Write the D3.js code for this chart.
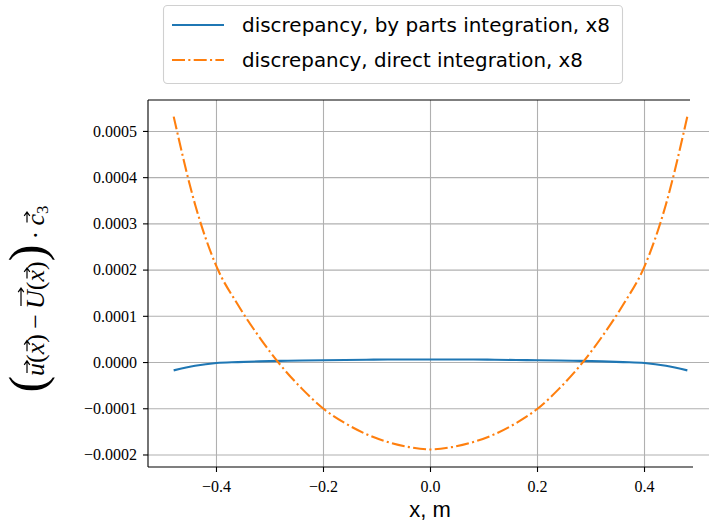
<!DOCTYPE html>
<html>
<head>
<meta charset="utf-8">
<script src="https://cdn.jsdelivr.net/npm/d3@7"></script>
<style>
  body { margin: 0; background: #fff; }
  svg { display: block; }
</style>
</head>
<body>
<div class="chart"></div>
<script>
// x positions (m)
var xs = [-0.48, -0.44, -0.40, -0.36, -0.32, -0.28, -0.24, -0.20, -0.16, -0.12, -0.08, -0.04, 0.00,
          0.04, 0.08, 0.12, 0.16, 0.20, 0.24, 0.28, 0.32, 0.36, 0.40, 0.44, 0.48]

// discrepancy, by parts integration, x8
var byParts = [-0.000017, -0.000007, -0.000001, 0.000001, 0.0000025, 0.0000035, 0.0000045, 0.000005,
               0.0000055, 0.000006, 0.0000065, 0.0000065, 0.0000065,
               0.0000065, 0.0000065, 0.000006, 0.0000055, 0.000005, 0.0000045, 0.0000035, 0.0000025,
               0.000001, -0.000001, -0.000007, -0.000017]

// discrepancy, direct integration, x8
var direct = [0.000532, 0.000342, 0.000208, 0.000125, 0.000055, -0.000006, -0.000057, -0.000100,
              -0.000131, -0.000155, -0.000172, -0.000183, -0.000188,
              -0.000183, -0.000172, -0.000155, -0.000131, -0.000100, -0.000057, -0.000006, 0.000055,
              0.000125, 0.000208, 0.000342, 0.000532]

var xTicks = [-0.4, -0.2, 0.0, 0.2, 0.4]
var yTicks = [-0.0002, -0.0001, 0.0000, 0.0001, 0.0002, 0.0003, 0.0004, 0.0005]
var seriesNames = ["discrepancy, by parts integration, x8", "discrepancy, direct integration, x8"]
var seriesColors = ["#1f77b4", "#ff7f0e"]

document.addEventListener("DOMContentLoaded", draw)

function draw() {
  var width = 709,
    height = 526,
    left = 148, top = 100, bottom = 467;

  var svg = d3.select(".chart").append("svg")
    .attr("width", width)
    .attr("height", height)

  var x = d3.scaleLinear().domain([-0.528, 0.528]).range([left, 713])
  var y = d3.scaleLinear().domain([-0.000226, 0.000568]).range([bottom, top])

  // grid
  var grid = svg.append("g").attr("stroke", "#b0b0b0").attr("stroke-width", 1.1)
  grid.selectAll(".vg").data(xTicks).enter().append("line")
    .attr("x1", d => x(d)).attr("x2", d => x(d))
    .attr("y1", top).attr("y2", bottom)
  grid.selectAll(".hg").data(yTicks).enter().append("line")
    .attr("x1", left).attr("x2", width)
    .attr("y1", d => y(d)).attr("y2", d => y(d))

  // lines
  var line = d3.line()
    .x((d, i) => x(xs[i]))
    .y(d => y(d))
    .curve(d3.curveMonotoneX)

  svg.append("path")
    .datum(byParts)
    .attr("fill", "none")
    .attr("stroke", seriesColors[0])
    .attr("stroke-width", 2.1)
    .attr("d", line)

  svg.append("path")
    .datum(direct)
    .attr("fill", "none")
    .attr("stroke", seriesColors[1])
    .attr("stroke-width", 2.1)
    .attr("stroke-dasharray", "13,3.3,2.1,3.3")
    .attr("d", line)

  // spines
  var spines = svg.append("g").attr("stroke", "#000").attr("stroke-width", 1.1)
  spines.append("line").attr("x1", left).attr("x2", left).attr("y1", top).attr("y2", bottom)
  spines.append("line").attr("x1", left).attr("x2", 693).attr("y1", bottom).attr("y2", bottom)
  spines.append("line").attr("x1", left).attr("x2", 690).attr("y1", top).attr("y2", top)

  // ticks
  var fmtX = d => d3.format(".1f")(d).replace("-", "\u2212")
  var fmtY = d => d3.format(".4f")(d).replace("-", "\u2212")

  var xt = svg.append("g").selectAll("g").data(xTicks).enter().append("g")
    .attr("transform", d => `translate(${x(d)},${bottom})`)
  xt.append("line").attr("y2", 5).attr("stroke", "#000").attr("stroke-width", 1.1)
  xt.append("text").attr("y", 25).attr("text-anchor", "middle")
    .attr("font-family", "Liberation Serif").attr("font-size", 16)
    .text(fmtX)

  var yt = svg.append("g").selectAll("g").data(yTicks).enter().append("g")
    .attr("transform", d => `translate(${left},${y(d)})`)
  yt.append("line").attr("x2", -5).attr("stroke", "#000").attr("stroke-width", 1.1)
  yt.append("text").attr("x", -11).attr("dy", "0.33em").attr("text-anchor", "end")
    .attr("font-family", "Liberation Serif").attr("font-size", 16)
    .text(fmtY)

  // x label
  svg.append("text")
    .attr("x", 430).attr("y", 517).attr("text-anchor", "middle")
    .attr("font-family", "Liberation Sans").attr("font-size", 22)
    .text("x, m")

  // y label (math), arrows drawn over the vector letters
  var ylg = svg.append("g").attr("transform", "translate(44,299) rotate(-90)")
  var yl = ylg.append("text")
    .attr("text-anchor", "middle")
    .attr("font-family", "Liberation Serif")
    .attr("font-size", 26)
  var parts = [
    { t: "(", big: true },
    { t: "u", it: true, vec: "low" },
    { t: "(" },
    { t: "x", it: true, vec: "low" },
    { t: ")\u2009\u2212\u2009" },
    { t: "U", it: true, vec: "high" },
    { t: "(" },
    { t: "x", it: true, vec: "low" },
    { t: ")" },
    { t: ")", big: true },
    { t: "\u2009\u00B7\u2009" },
    { t: "c", it: true, vec: "low" },
    { t: "3", sub: true }
  ]
  var offset = 0
  parts.forEach(function (p) {
    var ts = yl.append("tspan").text(p.t)
    if (p.it) ts.attr("font-style", "italic")
    if (p.big) ts.attr("font-size", 50)
    if (p.sub) ts.attr("font-size", 17).attr("dy", 4)
    p.index = offset
    offset += p.t.length
  })
  var node = yl.node()
  parts.filter(p => p.vec).forEach(function (p) {
    var s = node.getStartPositionOfChar(p.index),
      e = node.getEndPositionOfChar(p.index),
      ay = p.vec === "high" ? -23 : -17,
      x0 = s.x + 3, x1 = e.x + 2
    ylg.append("path")
      .attr("d", `M${x0},${ay}L${x1},${ay}M${x1 - 4},${ay - 2.8}L${x1},${ay}L${x1 - 4},${ay + 2.8}`)
      .attr("fill", "none").attr("stroke", "#000").attr("stroke-width", 1.2)
  })

  // legend
  var lg = svg.append("g")
  lg.append("rect")
    .attr("x", 163.5).attr("y", 5.5).attr("width", 459).attr("height", 78).attr("rx", 4)
    .attr("fill", "#fff").attr("stroke", "#d0d0d0").attr("stroke-width", 1.1)
  var items = lg.selectAll(".item").data(seriesNames).enter().append("g")
    .attr("transform", (d, i) => `translate(0,${25 + i * 35})`)
  items.append("line")
    .attr("x1", 172).attr("x2", 224)
    .attr("stroke", (d, i) => seriesColors[i])
    .attr("stroke-width", 2.1)
    .attr("stroke-dasharray", (d, i) => i === 1 ? "13,3.3,2.1,3.3" : null)
  items.append("text")
    .attr("x", 242).attr("dy", "0.35em")
    .attr("font-family", "DejaVu Sans").attr("font-size", 20)
    .attr("textLength", (d, i) => i === 0 ? 368 : 341)
    .attr("lengthAdjust", "spacingAndGlyphs")
    .text(d => d)
}
</script>
</body>
</html>
